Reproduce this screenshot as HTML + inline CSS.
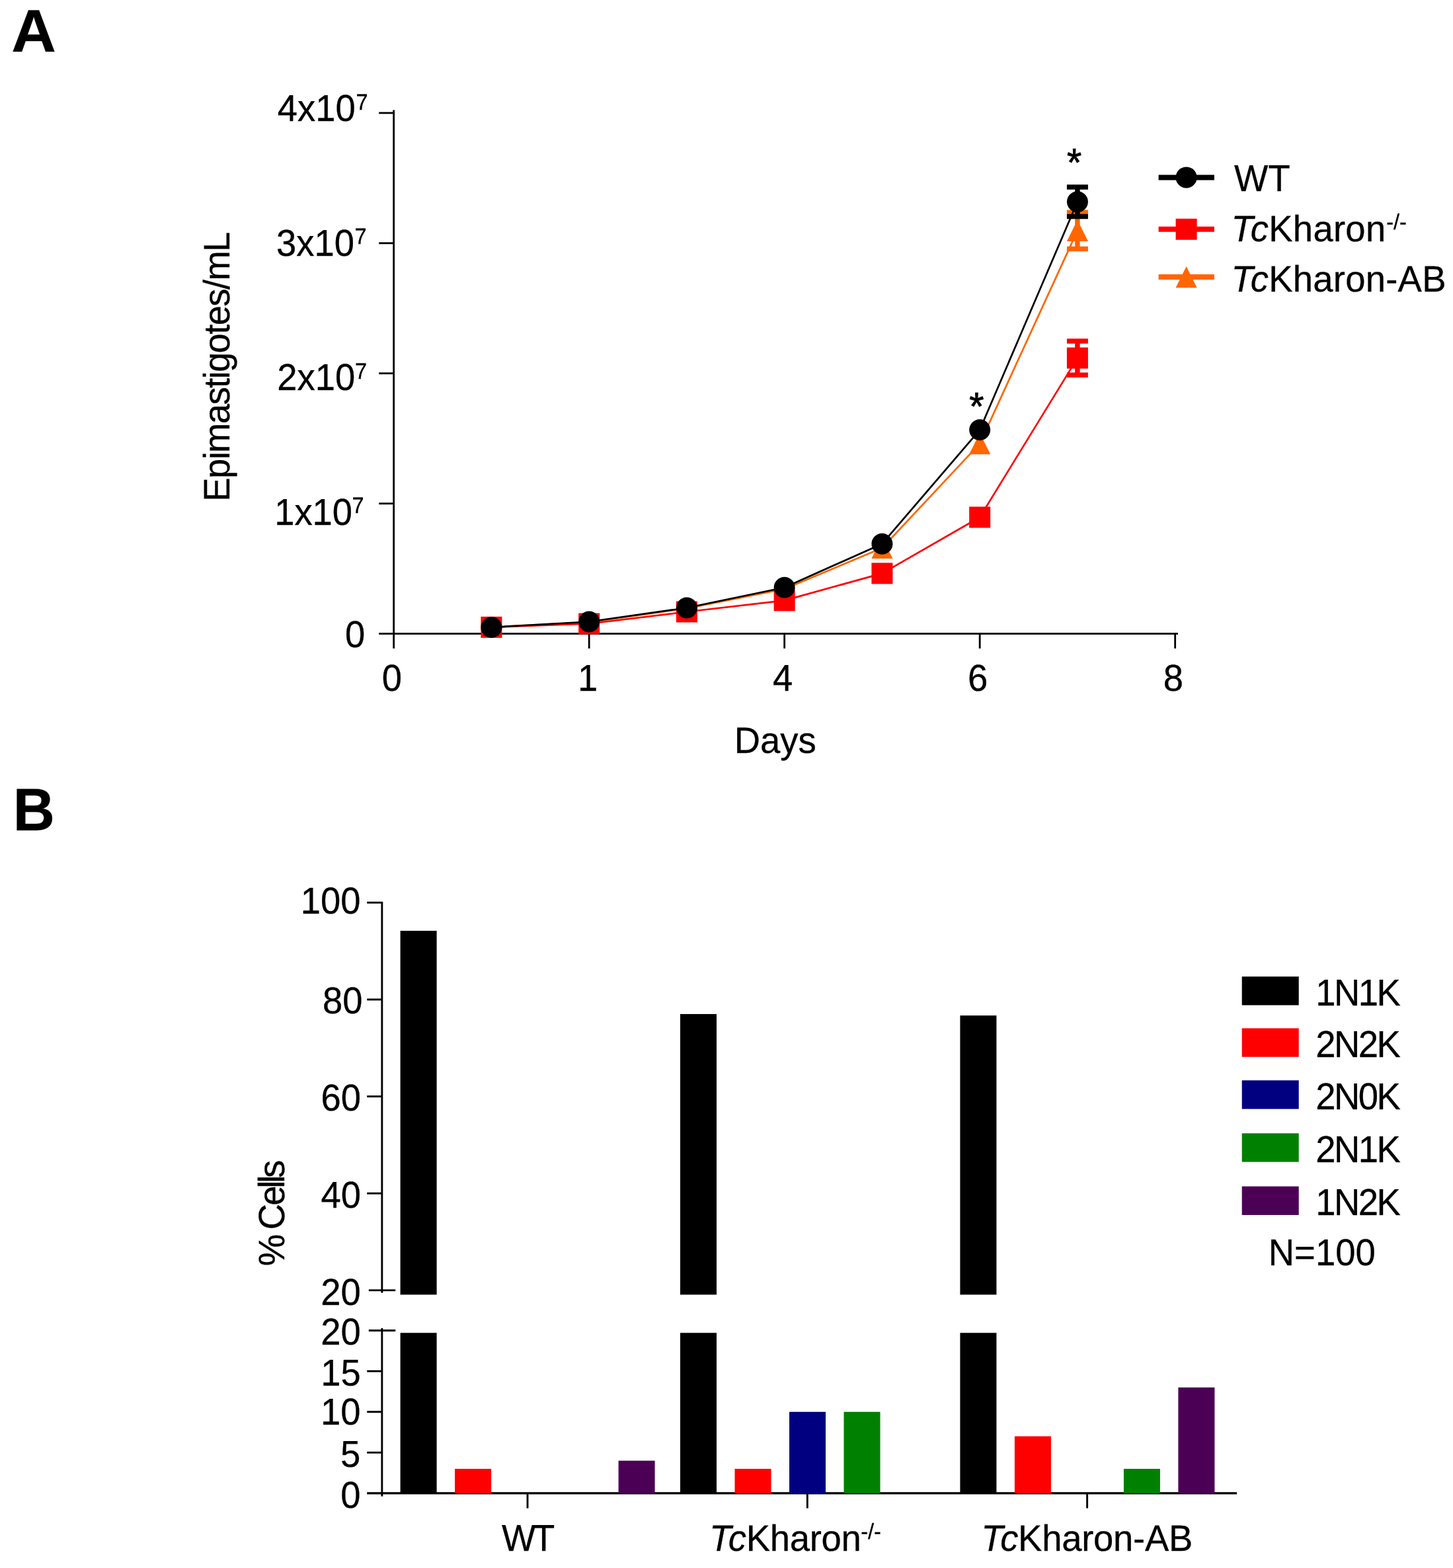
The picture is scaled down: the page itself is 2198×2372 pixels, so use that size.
<!DOCTYPE html>
<html lang="en">
<head>
<meta charset="utf-8">
<title>Figure</title>
<style>
html,body{margin:0;padding:0;background:#fff;}
body{width:2198px;height:2372px;}
svg{display:block;}
svg text{font-family:"Liberation Sans", sans-serif;fill:#000;stroke:#000;stroke-width:0.3px;font-kerning:none;white-space:pre;text-rendering:geometricPrecision;}
</style>
</head>
<body>
<svg width="2198" height="2372" viewBox="0 0 2198 2372">
<rect x="0" y="0" width="2198" height="2372" fill="#ffffff"/>
<g id="panel-labels">
<text transform="translate(17.16 77.9) scale(1.07 1.04)" style="font-size:87.5px;font-weight:bold;">A</text>
<text transform="translate(19.75 1255.7) scale(1 1.04)" style="font-size:87.5px;font-weight:bold;">B</text>
</g>
<g id="panel-a">
<line x1="595.65" y1="166.5" x2="595.65" y2="958.7" stroke="#000" stroke-width="2.8"/>
<line x1="573.2" y1="958.7" x2="1781.9" y2="958.7" stroke="#000" stroke-width="2.8"/>
<line x1="573.2" y1="761.75" x2="595.65" y2="761.75" stroke="#000" stroke-width="2.8"/>
<line x1="573.2" y1="564.8" x2="595.65" y2="564.8" stroke="#000" stroke-width="2.8"/>
<line x1="573.2" y1="367.85" x2="595.65" y2="367.85" stroke="#000" stroke-width="2.8"/>
<line x1="573.2" y1="170.9" x2="595.65" y2="170.9" stroke="#000" stroke-width="2.8"/>
<text transform="translate(522.07 979.2) scale(1 1.04)" style="font-size:54.4px;">0</text>
<text transform="translate(415.16 793.55) scale(1 1.04)" style="font-size:54.4px;">1x10<tspan dx="-0.49" dy="-17.02" style="font-size:32.5px">7</tspan></text>
<text transform="translate(419.26 590.2) scale(1 1.04)" style="font-size:54.4px;">2x10<tspan dx="-0.19" dy="-17.02" style="font-size:32.5px">7</tspan></text>
<text transform="translate(418.06 386.85) scale(1 1.04)" style="font-size:54.4px;">3x10<tspan dx="0.41" dy="-17.02" style="font-size:32.5px">7</tspan></text>
<text transform="translate(419.86 183.3) scale(1 1.04)" style="font-size:54.4px;">4x10<tspan dx="0.71" dy="-17.02" style="font-size:32.5px">7</tspan></text>
<line x1="595.65" y1="958.7" x2="595.65" y2="981" stroke="#000" stroke-width="2.8"/>
<text transform="translate(577.72 1045.1) scale(1 1.04)" style="font-size:54.4px;">0</text>
<line x1="891.15" y1="958.7" x2="891.15" y2="981" stroke="#000" stroke-width="2.8"/>
<text transform="translate(873.88 1045.1) scale(1 1.04)" style="font-size:54.4px;">1</text>
<line x1="1186.65" y1="958.7" x2="1186.65" y2="981" stroke="#000" stroke-width="2.8"/>
<text transform="translate(1168.9 1045.1) scale(1 1.04)" style="font-size:54.4px;">4</text>
<line x1="1482.15" y1="958.7" x2="1482.15" y2="981" stroke="#000" stroke-width="2.8"/>
<text transform="translate(1464.04 1045.1) scale(1 1.04)" style="font-size:54.4px;">6</text>
<line x1="1777.65" y1="958.7" x2="1777.65" y2="981" stroke="#000" stroke-width="2.8"/>
<text transform="translate(1759.72 1045.1) scale(1 1.04)" style="font-size:54.4px;">8</text>
<text transform="translate(1110.74 1139) scale(1 1.02)" style="font-size:54.4px;">Days</text>
<text transform="translate(347 758.66) rotate(-90) scale(1 1.02)" style="font-size:54.4px;letter-spacing:-1.62px;">Epimastigotes/mL</text>
<g id="series-ab">
<line x1="1629.9" y1="321.2" x2="1629.9" y2="376.6" stroke="#ff6600" stroke-width="7.5"/>
<line x1="1613.9" y1="321.2" x2="1645.9" y2="321.2" stroke="#ff6600" stroke-width="7.5"/>
<line x1="1613.9" y1="376.6" x2="1645.9" y2="376.6" stroke="#ff6600" stroke-width="7.5"/>
<polyline points="743.4,948.5 891.15,941.3 1038.9,920.5 1186.65,891 1334.4,829 1482.15,671.1 1629.9,348.9" fill="none" stroke="#ff6600" stroke-width="2.7" stroke-linejoin="round"/>
<polygon points="743.4,932.4 759.5,964.6 727.3,964.6" fill="#ff6600"/>
<polygon points="891.15,925.2 907.25,957.4 875.05,957.4" fill="#ff6600"/>
<polygon points="1038.9,904.4 1055,936.6 1022.8,936.6" fill="#ff6600"/>
<polygon points="1186.65,874.9 1202.75,907.1 1170.55,907.1" fill="#ff6600"/>
<polygon points="1334.4,812.9 1350.5,845.1 1318.3,845.1" fill="#ff6600"/>
<polygon points="1482.15,655 1498.25,687.2 1466.05,687.2" fill="#ff6600"/>
<polygon points="1629.9,332.8 1646,365 1613.8,365" fill="#ff6600"/>
</g><g id="series-ko">
<line x1="1629.9" y1="516" x2="1629.9" y2="567.2" stroke="#ff0000" stroke-width="7.5"/>
<line x1="1613.9" y1="516" x2="1645.9" y2="516" stroke="#ff0000" stroke-width="7.5"/>
<line x1="1613.9" y1="567.2" x2="1645.9" y2="567.2" stroke="#ff0000" stroke-width="7.5"/>
<polyline points="743.4,948.8 891.15,943.5 1038.9,925.5 1186.65,908.4 1334.4,867.4 1482.15,782.5 1629.9,541.6" fill="none" stroke="#ff0000" stroke-width="2.7" stroke-linejoin="round"/>
<rect x="727.4" y="932.8" width="32" height="32" fill="#ff0000"/>
<rect x="875.15" y="927.5" width="32" height="32" fill="#ff0000"/>
<rect x="1022.9" y="909.5" width="32" height="32" fill="#ff0000"/>
<rect x="1170.65" y="892.4" width="32" height="32" fill="#ff0000"/>
<rect x="1318.4" y="851.4" width="32" height="32" fill="#ff0000"/>
<rect x="1466.15" y="766.5" width="32" height="32" fill="#ff0000"/>
<rect x="1613.9" y="525.6" width="32" height="32" fill="#ff0000"/>
</g><g id="series-wt">
<line x1="1629.9" y1="282.9" x2="1629.9" y2="327.5" stroke="#000000" stroke-width="7.5"/>
<line x1="1613.9" y1="282.9" x2="1645.9" y2="282.9" stroke="#000000" stroke-width="7.5"/>
<line x1="1613.9" y1="327.5" x2="1645.9" y2="327.5" stroke="#000000" stroke-width="7.5"/>
<polyline points="743.4,949 891.15,940.5 1038.9,919.5 1186.65,888.7 1334.4,822.7 1482.15,650.3 1629.9,305.2" fill="none" stroke="#000000" stroke-width="2.7" stroke-linejoin="round"/>
<circle cx="743.4" cy="949" r="16" fill="#000000"/>
<circle cx="891.15" cy="940.5" r="16" fill="#000000"/>
<circle cx="1038.9" cy="919.5" r="16" fill="#000000"/>
<circle cx="1186.65" cy="888.7" r="16" fill="#000000"/>
<circle cx="1334.4" cy="822.7" r="16" fill="#000000"/>
<circle cx="1482.15" cy="650.3" r="16" fill="#000000"/>
<circle cx="1629.9" cy="305.2" r="16" fill="#000000"/>
</g>
<text transform="translate(1614.1 265.88) scale(1 1.04)" style="font-size:57px;stroke:#000;stroke-width:0.9px">*</text>
<text transform="translate(1466.2 634.98) scale(1 1.04)" style="font-size:57px;stroke:#000;stroke-width:0.9px">*</text>
<line x1="1752.6" y1="268.4" x2="1836.9" y2="268.4" stroke="#000000" stroke-width="8"/>
<circle cx="1794.6" cy="268.4" r="16" fill="#000000"/>
<line x1="1752.6" y1="346.8" x2="1836.9" y2="346.8" stroke="#ff0000" stroke-width="8"/>
<rect x="1778.6" y="330.8" width="32" height="32" fill="#ff0000"/>
<line x1="1752.6" y1="419.1" x2="1836.9" y2="419.1" stroke="#ff6600" stroke-width="8"/>
<polygon points="1794.6,403 1810.7,435.2 1778.5,435.2" fill="#ff6600"/>
<text transform="translate(1867.06 289.4) scale(1 1.04)" style="font-size:54.4px;">WT</text>
<text transform="translate(1862.41 365.2) scale(1 1.02)" style="font-size:54.4px;letter-spacing:0.3px;"><tspan style="font-style:italic" dx="0 -4.15">Tc</tspan>Kharon<tspan dx="0.7" dy="-17.45" style="font-size:32.5px;letter-spacing:0">-/-</tspan></text>
<text transform="translate(1862.41 440.9) scale(1 1.02)" style="font-size:54.4px;letter-spacing:0.27px;"><tspan style="font-style:italic" dx="0 -4.15">Tc</tspan>Kharon-AB</text>
</g>
<g id="panel-b">
<line x1="577.85" y1="1363.95" x2="577.85" y2="1955.8" stroke="#000" stroke-width="2.9"/>
<line x1="577.85" y1="2009.1" x2="577.85" y2="2263.6" stroke="#000" stroke-width="2.9"/>
<line x1="555.2" y1="1805.28" x2="577.85" y2="1805.28" stroke="#000" stroke-width="2.9"/>
<line x1="555.2" y1="1658.65" x2="577.85" y2="1658.65" stroke="#000" stroke-width="2.9"/>
<line x1="555.2" y1="1512.03" x2="577.85" y2="1512.03" stroke="#000" stroke-width="2.9"/>
<line x1="555.2" y1="1365.4" x2="577.85" y2="1365.4" stroke="#000" stroke-width="2.9"/>
<line x1="555.2" y1="2197.35" x2="577.85" y2="2197.35" stroke="#000" stroke-width="2.9"/>
<line x1="555.2" y1="2135.8" x2="577.85" y2="2135.8" stroke="#000" stroke-width="2.9"/>
<line x1="555.2" y1="2074.25" x2="577.85" y2="2074.25" stroke="#000" stroke-width="2.9"/>
<line x1="557.8" y1="1951.9" x2="598.2" y2="1951.9" stroke="#000" stroke-width="2.9"/>
<line x1="557.8" y1="2012.7" x2="598.2" y2="2012.7" stroke="#000" stroke-width="2.9"/>
<line x1="555.2" y1="2258.9" x2="1871" y2="2258.9" stroke="#000" stroke-width="3.2"/>
<text transform="translate(454.66 1381.98) scale(1 1.04)" style="font-size:54.4px;">100</text>
<text transform="translate(488.12 1532.98) scale(1 1.04)" style="font-size:54.4px;">80</text>
<text transform="translate(485.42 1679.98) scale(1 1.04)" style="font-size:54.4px;">60</text>
<text transform="translate(485.42 1826.78) scale(1 1.04)" style="font-size:54.4px;">40</text>
<text transform="translate(485.22 1974.48) scale(1 1.04)" style="font-size:54.4px;">20</text>
<text transform="translate(485.22 2033.58) scale(1 1.04)" style="font-size:54.4px;">20</text>
<text transform="translate(485.27 2096.28) scale(1 1.04)" style="font-size:54.4px;">15</text>
<text transform="translate(485.12 2155.08) scale(1 1.04)" style="font-size:54.4px;">10</text>
<text transform="translate(515.03 2218.58) scale(1 1.04)" style="font-size:54.4px;">5</text>
<text transform="translate(515.37 2281.48) scale(1 1.04)" style="font-size:54.4px;">0</text>
<text transform="translate(429.7 1915.24) rotate(-90) scale(1 1.02)" dx="0 0 0 1.3" style="font-size:54.4px;letter-spacing:-4.2px;">% Cells</text>
<rect x="605.6" y="2016.3" width="55" height="242.6" fill="#000000"/>
<rect x="605.6" y="1408.07" width="55" height="550.43" fill="#000000"/>
<rect x="688.1" y="2221.97" width="55" height="36.93" fill="#ff0000"/>
<rect x="935.6" y="2209.66" width="55" height="49.24" fill="#4b0055"/>
<rect x="1029" y="2016.3" width="55" height="242.6" fill="#000000"/>
<rect x="1029" y="1534.02" width="55" height="424.48" fill="#000000"/>
<rect x="1111.5" y="2221.97" width="55" height="36.93" fill="#ff0000"/>
<rect x="1194" y="2135.8" width="55" height="123.1" fill="#000080"/>
<rect x="1276.5" y="2135.8" width="55" height="123.1" fill="#008000"/>
<rect x="1452.4" y="2016.3" width="55" height="242.6" fill="#000000"/>
<rect x="1452.4" y="1536.22" width="55" height="422.28" fill="#000000"/>
<rect x="1534.9" y="2172.73" width="55" height="86.17" fill="#ff0000"/>
<rect x="1699.9" y="2221.97" width="55" height="36.93" fill="#008000"/>
<rect x="1782.4" y="2098.87" width="55" height="160.03" fill="#4b0055"/>
<line x1="798" y1="2258.9" x2="798" y2="2281.6" stroke="#000" stroke-width="2.9"/>
<line x1="1221.3" y1="2258.9" x2="1221.3" y2="2281.6" stroke="#000" stroke-width="2.9"/>
<line x1="1644.6" y1="2258.9" x2="1644.6" y2="2281.6" stroke="#000" stroke-width="2.9"/>
<text transform="translate(758.96 2346.2) scale(1 1.04)" style="font-size:54.4px;letter-spacing:-4.3px;">WT</text>
<text transform="translate(1073.01 2346.2) scale(1 1.02)" style="font-size:54.4px;letter-spacing:-0.28px;"><tspan style="font-style:italic" dx="0 -4.15">Tc</tspan>Kharon<tspan dx="-0.3" dy="-17.45" style="font-size:32.5px;letter-spacing:0">-/-</tspan></text>
<text transform="translate(1484.31 2346.2) scale(1 1.02)" style="font-size:54.4px;letter-spacing:-0.24px;"><tspan style="font-style:italic" dx="0 -4.15">Tc</tspan>Kharon-AB</text>
<rect x="1878.7" y="1477.3" width="86" height="43.3" fill="#000000"/>
<text transform="translate(1990.13 1520.6) scale(1 1.04)" style="font-size:54.4px;letter-spacing:-2.5px;">1N1K</text>
<rect x="1878.7" y="1555.5" width="86" height="43.3" fill="#ff0000"/>
<text transform="translate(1990.13 1598.5) scale(1 1.04)" style="font-size:54.4px;letter-spacing:-2.5px;">2N2K</text>
<rect x="1878.7" y="1634.3" width="86" height="43.3" fill="#000080"/>
<text transform="translate(1990.13 1677.6) scale(1 1.04)" style="font-size:54.4px;letter-spacing:-2.5px;">2N0K</text>
<rect x="1878.7" y="1714.4" width="86" height="43.3" fill="#008000"/>
<text transform="translate(1990.13 1757.9) scale(1 1.04)" style="font-size:54.4px;letter-spacing:-2.5px;">2N1K</text>
<rect x="1878.7" y="1794.7" width="86" height="43.3" fill="#4b0055"/>
<text transform="translate(1990.13 1838.3) scale(1 1.04)" style="font-size:54.4px;letter-spacing:-2.5px;">1N2K</text>
<text transform="translate(1918.84 1913.7) scale(1 1.04)" style="font-size:54.4px;">N=100</text>
</g>
</svg>
</body>
</html>
